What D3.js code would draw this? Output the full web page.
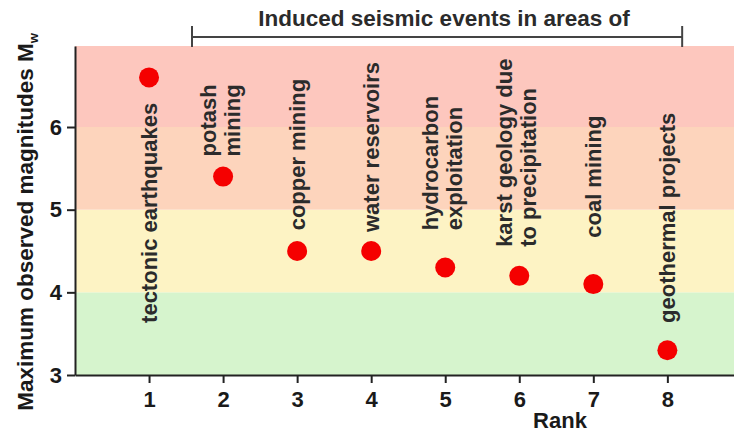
<!DOCTYPE html>
<html>
<head>
<meta charset="utf-8">
<script src="https://cdn.jsdelivr.net/npm/d3@7"></script>
<style>
  body { margin: 0; background: #fff; }
  text { font-family: "Liberation Sans", Arial, sans-serif; font-weight: bold; }
</style>
</head>
<body>
<div id="chart"></div>
<script>
const ranks = [1, 2, 3, 4, 5, 6, 7, 8];
const magnitudes = [6.6, 5.4, 4.5, 4.5, 4.3, 4.2, 4.1, 3.3];
const categories = [
    ["tectonic earthquakes"],
    ["potash", "mining"],
    ["copper mining"],
    ["water reservoirs"],
    ["hydrocarbon", "exploitation"],
    ["karst geology due", "to precipitation"],
    ["coal mining"],
    ["geothermal projects"]
];
const yTicks = [3, 4, 5, 6];
const bandEdges = [3, 4, 5, 6, 7];

const width = 734, height = 432;
const svg = d3.select("#chart").append("svg")
    .attr("width", width)
    .attr("height", height);

const x = d3.scaleLinear().domain([0, 8.9]).range([75, 734]);
const y = d3.scaleLinear().domain([3, 6.98]).range([375, 46]);

const bandColors = ["#d6f4cd", "#fdf3c4", "#fdd4bc", "#fdc7be"];

// background bands
svg.append("g").selectAll("rect")
    .data(d3.pairs(bandEdges))
    .join("rect")
    .attr("x", x(0))
    .attr("width", x.range()[1] - x(0))
    .attr("y", d => y(Math.min(d[1], y.domain()[1])))
    .attr("height", d => y(d[0]) - y(Math.min(d[1], y.domain()[1])))
    .attr("fill", (d, i) => bandColors[i]);

// axes
const yAxis = svg.append("g")
    .attr("transform", `translate(${x(0)},0)`)
    .call(d3.axisLeft(y).tickValues(yTicks).tickFormat(d3.format("d"))
        .tickSize(8).tickPadding(5).tickSizeOuter(0));
const xAxis = svg.append("g")
    .attr("transform", `translate(0,${y(3)})`)
    .call(d3.axisBottom(x).tickValues(ranks).tickFormat(d3.format("d"))
        .tickSize(8).tickPadding(8).tickSizeOuter(0));

[yAxis, xAxis].forEach(function(g) {
    g.select(".domain").attr("stroke", "#222").attr("stroke-width", 2);
    g.selectAll(".tick line").attr("stroke", "#222").attr("stroke-width", 2);
    g.selectAll(".tick text")
        .attr("fill", "#1a1a1a")
        .attr("font-size", "22px");
});

// points
svg.append("g").selectAll("circle")
    .data(ranks)
    .join("circle")
    .attr("cx", d => x(d))
    .attr("cy", (d, i) => y(magnitudes[i]))
    .attr("r", 10)
    .attr("fill", "#f50000");

// category labels (label anchor level in magnitude units, and anchor side)
const labelLevel = [3.63, 6.08, 4.75, 4.73, 4.75, 4.55, 4.66, 3.63];
const labelAnchor = ["start", "middle", "start", "start", "start", "start", "start", "start"];
const lineGap = 24;

categories.forEach(function(lines, i) {
    const cx = x(ranks[i]);
    const cy = y(labelLevel[i]);
    const t = svg.append("text")
        .attr("transform", `translate(${cx},${cy}) rotate(-90)`)
        .attr("text-anchor", labelAnchor[i])
        .attr("font-size", "22px")
        .attr("fill", "#2b2b2b");
    lines.forEach(function(line, j) {
        const off = lines.length === 1 ? 0 : (j - (lines.length - 1) / 2) * lineGap - 3;
        t.append("tspan")
            .attr("x", 0)
            .attr("y", off)
            .attr("dominant-baseline", "central")
            .text(line);
    });
});

// bracket with title
const bx0 = x(1.58), bx1 = x(8.2), by = 37;
const bracket = svg.append("g").attr("stroke", "#444").attr("stroke-width", 2);
bracket.append("line").attr("x1", bx0).attr("x2", bx1).attr("y1", by).attr("y2", by);
bracket.append("line").attr("x1", bx0).attr("x2", bx0).attr("y1", 26).attr("y2", 47);
bracket.append("line").attr("x1", bx1).attr("x2", bx1).attr("y1", 26).attr("y2", 47);

svg.append("text")
    .attr("x", 444)
    .attr("y", 26)
    .attr("text-anchor", "middle")
    .attr("font-size", "22.5px")
    .attr("fill", "#2b2b2b")
    .text("Induced seismic events in areas of");

// axis titles
svg.append("text")
    .attr("x", 560)
    .attr("y", 428)
    .attr("text-anchor", "middle")
    .attr("font-size", "22px")
    .attr("fill", "#1a1a1a")
    .text("Rank");

const yTitle = svg.append("text")
    .attr("transform", "translate(33,222) rotate(-90)")
    .attr("text-anchor", "middle")
    .attr("font-size", "22.5px")
    .attr("fill", "#1a1a1a");
yTitle.append("tspan").text("Maximum observed magnitudes M");
yTitle.append("tspan").attr("font-size", "13px").attr("dy", 5).text("w");
</script>
</body>
</html>
